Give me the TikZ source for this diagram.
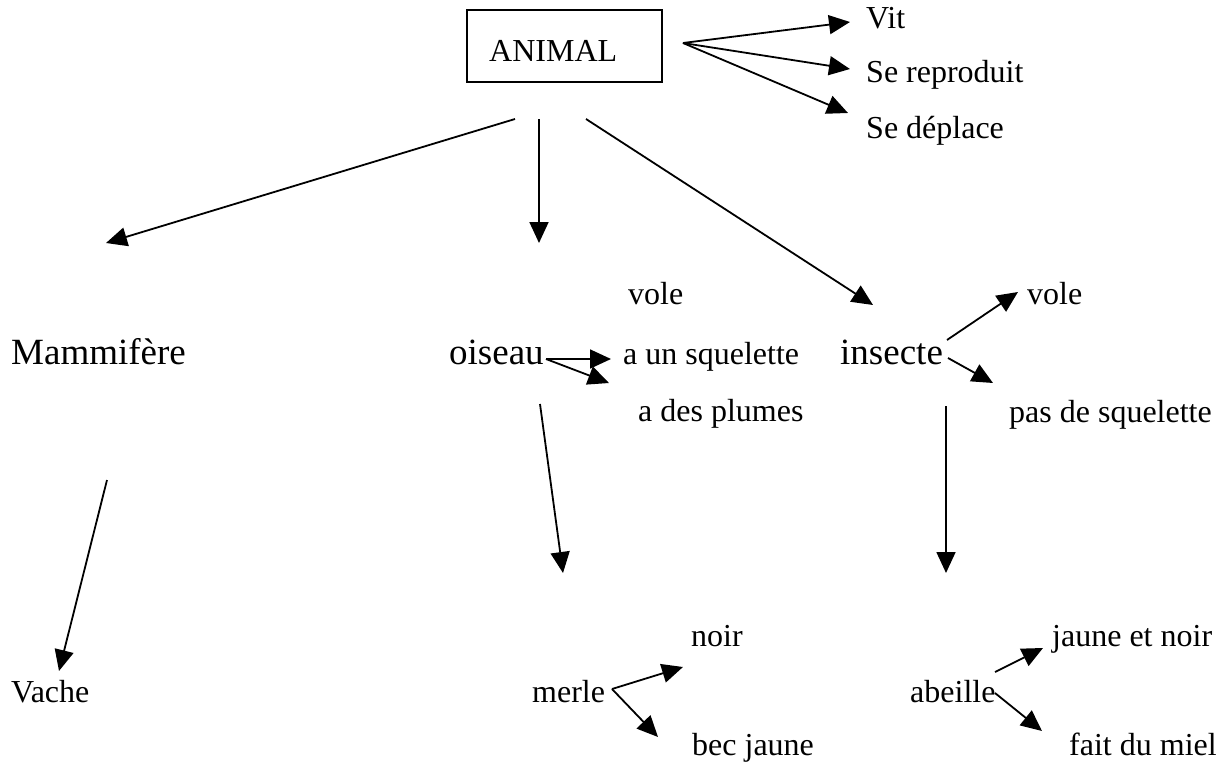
\documentclass[tikz,border=0pt]{standalone}
\usepackage{fontspec}
\setmainfont{Liberation Serif}
\usetikzlibrary{arrows.meta}
\begin{document}
\begin{tikzpicture}[x=1pt,y=-1pt,
  lbl/.style={anchor=base west, inner sep=0pt, font=\fontsize{32}{38}\selectfont},
  big/.style={anchor=base west, inner sep=0pt, font=\fontsize{37}{44}\selectfont},
  arr/.style={line width=1.8pt, -{Triangle[length=21pt,width=19pt]}},
  boxst/.style={draw, line width=1.8pt, inner sep=0pt}]
\useasboundingbox (0,0) rectangle (1224,763);
% top
\node[boxst, minimum width=195pt, minimum height=72pt] (animalbox) at (564.5,46) {};
\node[lbl] (animal) at (489,61) {ANIMAL};
\node[lbl] (vit) at (866,28) {Vit};
\node[lbl] (repro) at (866,82) {Se reproduit};
\node[lbl] (depl) at (866,138) {Se déplace};
\coordinate (a0) at (683,43);
\coordinate (tvit) at (850,22);
\coordinate (trepro) at (850,69);
\coordinate (tdepl) at (848,113);
\draw[arr] (a0) -- (tvit);
\draw[arr] (a0) -- (trepro);
\draw[arr] (a0) -- (tdepl);
\coordinate (s1) at (515,119);
\coordinate (s2) at (539,119);
\coordinate (s3) at (586,119);
\coordinate (t1) at (106,243);
\coordinate (t2) at (539,243);
\coordinate (t3) at (873,305);
\draw[arr] (s1) -- (t1);
\draw[arr] (s2) -- (t2);
\draw[arr] (s3) -- (t3);
% middle row
\node[big] (mammi) at (11,364) {Mammifère};
\node[big] (oiseau) at (449,364) {oiseau};
\node[big] (insecte) at (840,364) {insecte};
\node[lbl] (vole1) at (628,304) {vole};
\node[lbl] (sq) at (623,364) {a un squelette};
\node[lbl] (plumes) at (638,421) {a des plumes};
\node[lbl] (vole2) at (1027,304) {vole};
\node[lbl] (pas) at (1009,422) {pas de squelette};
\coordinate (o0) at (546,359);
\coordinate (oh) at (611,359);
\coordinate (od) at (609,383);
\draw[arr] (o0) -- (oh);
\draw[arr] (o0) -- (od);
\coordinate (i0) at (947,340);
\coordinate (i1) at (948,358);
\coordinate (iv) at (1018,292);
\coordinate (ip) at (993,383);
\draw[arr] (i0) -- (iv);
\draw[arr] (i1) -- (ip);
% down arrows
\coordinate (m0) at (107,480);
\coordinate (m1) at (59,671);
\coordinate (b0) at (540,404);
\coordinate (b1) at (563,573);
\coordinate (c0) at (946,406);
\coordinate (c1) at (946,573);
\draw[arr] (m0) -- (m1);
\draw[arr] (b0) -- (b1);
\draw[arr] (c0) -- (c1);
% bottom row
\node[lbl] (vache) at (11,702) {Vache};
\node[lbl] (merle) at (532,702) {merle};
\node[lbl] (noir) at (691,646) {noir};
\node[lbl] (bec) at (692,755) {bec jaune};
\node[lbl] (abeille) at (910,702) {abeille};
\node[lbl] (jn) at (1052,646) {jaune et noir};
\node[lbl] (miel) at (1069,755) {fait du miel};
\coordinate (r0) at (612,689);
\coordinate (rn) at (683,667);
\coordinate (rb) at (658,737);
\draw[arr] (r0) -- (rn);
\draw[arr] (r0) -- (rb);
\coordinate (e0) at (995,672);
\coordinate (e1) at (995,693);
\coordinate (ej) at (1043,648);
\coordinate (em) at (1042,731);
\draw[arr] (e0) -- (ej);
\draw[arr] (e1) -- (em);
\end{tikzpicture}
\end{document}
